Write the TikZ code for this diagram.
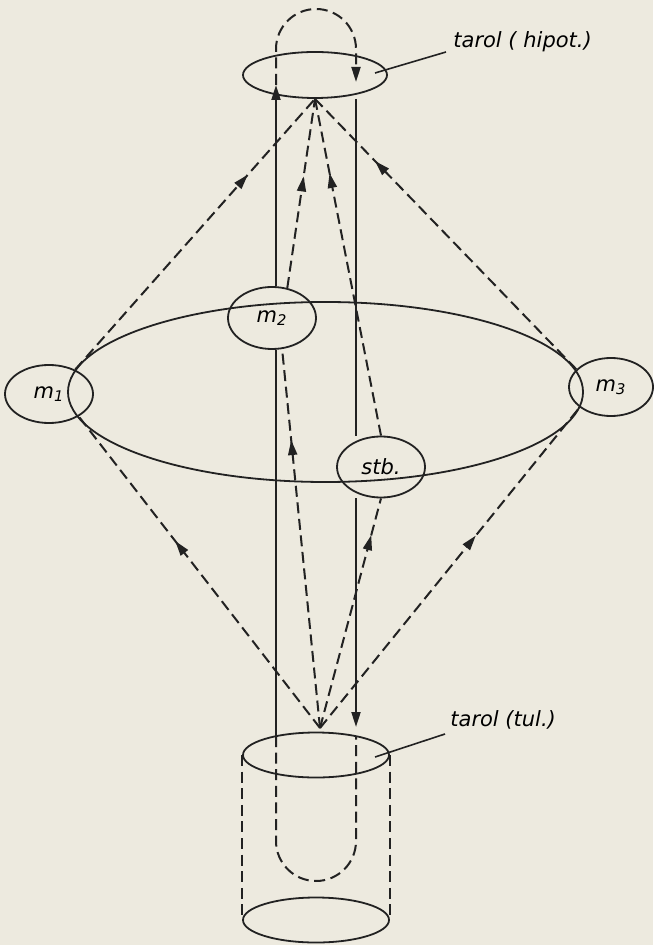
\documentclass[tikz,border=0pt]{standalone}
\usepackage{fontspec}
\setmainfont{DejaVu Sans}
\usetikzlibrary{arrows.meta, shapes.geometric, decorations.markings, calc}
\definecolor{paper}{RGB}{237,234,223}
\definecolor{ink}{RGB}{34,34,34}
\newcommand{\lab}{\fontsize{10.5}{12}\selectfont\itshape}

\begin{document}
\begin{tikzpicture}[
    x=0.5pt, y=-0.5pt,
    oval/.style={draw=ink, ellipse, line width=0.9pt, inner sep=0pt, font=\lab},
    ln/.style={line width=1pt, draw=ink},
    dsh/.style={ln, dash pattern=on 5.5pt off 2.8pt},
    tip/.style={-{Triangle[length=7.5pt,width=4.5pt]}},
    midarr/.style={postaction={decorate}, decoration={markings,
        mark=at position #1 with {\arrow[ink]{Triangle[length=7.5pt,width=4.5pt]}}}},
]
  \fill[paper] (0,0) rectangle (653,945);

  % stores
  \node[oval, minimum width=72pt, minimum height=23pt] (hipot) at (315,75) {};
  \node[oval, minimum width=73pt, minimum height=22.5pt] (tul) at (316,755) {};
  \node[oval, minimum width=73pt, minimum height=22.5pt] (tulbot) at (316,920) {};
  \node[font=\lab, anchor=base west, inner sep=0pt] (hipotlab) at (453,48) {tarol ( hipot.)};
  \node[font=\lab, anchor=base west, inner sep=0pt] (tullab) at (450,726) {tarol (tul.)};

  % members
  \node[oval, minimum width=44pt, minimum height=29pt] (m1) at (49,394) {m\textsubscript{1}};
  \node[oval, minimum width=44pt, minimum height=31pt] (m2) at (272,318) {m\textsubscript{2}};
  \node[oval, minimum width=42pt, minimum height=29pt] (m3) at (611,387) {m\textsubscript{3}};
  \node[oval, minimum width=44pt, minimum height=30.5pt] (stb) at (381,467) {stb.};

  \draw[ln, line width=0.9pt] (325.5,392) ellipse [x radius=128.75pt, y radius=45pt];

  \coordinate (apex) at (320,728);
  \coordinate (L) at (276,0);
  \coordinate (R) at (356,0);
  \coordinate (ltop) at (276,85);
  \coordinate (rtop) at (356,82);
  \coordinate (rbot) at (356,727);
  \coordinate (tl) at (276,736);
  \coordinate (tr) at (356,737);

  % up to the hypothetical store
  \draw[dsh, midarr=0.72] (m1.43) -- (hipot.south);
  \draw[dsh, midarr=0.59] (m2.63) -- (hipot.south);
  \draw[dsh, midarr=0.78] (stb.north) -- (hipot.south);
  \draw[dsh, midarr=0.77] (m3.153) -- (hipot.south);

  % from the tradition store
  \draw[dsh, midarr=0.6] (apex) -- (m1.-37);
  \draw[dsh, midarr=0.76] (apex) -- (m2.-72);
  \draw[dsh, midarr=0.84] (apex) -- (stb.south);
  \draw[dsh, midarr=0.6] (apex) -- (m3.213);

  % loop
  \draw[ln] (tl) -- (m2.south -| L);
  \draw[ln, tip] (m2.north -| L) -- (ltop);
  \draw[dsh, tip] (ltop) -- ++(0,-36) arc[start angle=180, end angle=0, radius=20pt] -- (rtop);
  \draw[ln] (R |- hipot.south) -- (stb.north -| R);
  \draw[ln, tip] (stb.south -| R) -- (rbot);
  \draw[dsh] (tl) -- ++(0,105) arc[start angle=180, end angle=360, radius=20pt] -- (tr);

  % cylinder
  \draw[dsh] (tul.west) -- (tulbot.west);
  \draw[dsh] (tul.east) -- (tulbot.east);

  % leaders
  \draw[ln, line width=0.8pt] ([xshift=30pt,yshift=1pt]hipot.center) -- ([xshift=-3.5pt,yshift=-2pt]hipotlab.base west);
  \draw[ln, line width=0.8pt] ([xshift=29.5pt,yshift=-1pt]tul.center) -- ([xshift=-2.5pt,yshift=-4pt]tullab.base west);
\end{tikzpicture}
\end{document}
